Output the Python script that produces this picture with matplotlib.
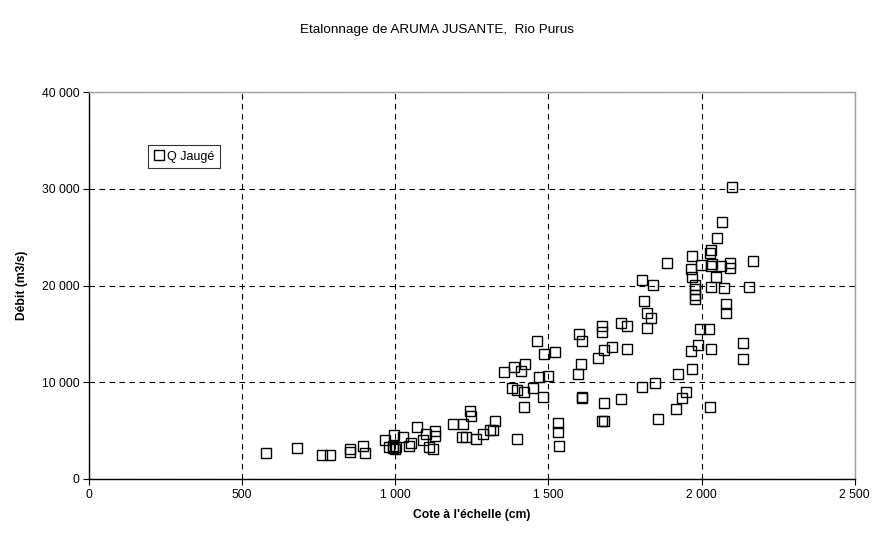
import numpy as np
import matplotlib.pyplot as plt
from matplotlib.ticker import FuncFormatter, MultipleLocator

plt.rcParams['font.family'] = ['Liberation Sans', 'DejaVu Sans']

# Cote (cm) et débit jaugé (m3/s)
cote = [578, 678, 760, 786, 851, 851, 894, 900, 968, 978,
        992, 992, 995, 998, 1001, 1024, 1044, 1050, 1070, 1089,
        1099, 1109, 1122, 1131, 1131, 1190, 1220, 1243, 1246, 1217,
        1230, 1265, 1288, 1308, 1318, 1327, 1399, 1354, 1386, 1422,
        1412, 1380, 1396, 1419, 1451, 1468, 1481, 1500, 1419, 1487,
        1520, 1464, 1530, 1530, 1536, 1595, 1608, 1611, 1680, 1683,
        1663, 1680, 1709, 1758, 1601, 1611, 1676, 1676, 1738, 1755,
        1804, 1840, 1813, 1823, 1836, 1823, 1888, 1738, 1611, 1676,
        1807, 1849, 1924, 1970, 1967, 1990, 2032, 1996, 2025, 2136,
        2136, 1950, 1937, 1918, 2029, 1859, 2100, 2068, 2052, 2029,
        2032, 2169, 1970, 1967, 1970, 2032, 2035, 2048, 2065, 2094,
        2094, 1980, 2032, 2074, 2156, 1980, 1980, 1980, 2081, 2081,
        1999]
debit = [2700, 3210, 2480, 2480, 3100, 2790, 3410, 2690, 4030, 3310,
         3200, 3410, 4550, 3100, 3310, 4340, 3410, 3720, 5370, 4030,
         4650, 3310, 3100, 4960, 4440, 5680, 5680, 7030, 6510, 4340,
         4340, 4130, 4650, 5060, 5060, 5990, 4130, 11060, 11580, 11890,
         11160, 9410, 9200, 8990, 9410, 10540, 8480, 10650, 7440, 12920,
         13130, 14260, 5790, 4860, 3410, 10850, 11890, 8480, 5990, 7860,
         12510, 13330, 13640, 13440, 14990, 14260, 15810, 15190, 16120, 15810,
         20570, 20050, 18400, 17160, 16640, 15610, 22330, 8270, 8370, 5990,
         9510, 9920, 10850, 11370, 13230, 13850, 13440, 15500, 15500, 14060,
         12400, 8990, 8370, 7240, 7440, 6200, 30180, 26560, 24910, 23360,
         23670, 22530, 23050, 21710, 20880, 22020, 22220, 20880, 22020, 22330,
         21810, 20050, 19850, 19740, 19850, 19640, 19020, 18610, 18090, 17160,
         22120]

fig = plt.figure(figsize=(8.73, 5.35), dpi=100)
ax = fig.add_axes([0.102, 0.1047, 0.877, 0.7233])

ax.plot(cote, debit, linestyle='none', marker='s', markersize=7.2,
        markerfacecolor='none', markeredgecolor='black', markeredgewidth=1.0,
        label='Q Jaugé')

ax.set_xlim(0, 2500)
ax.set_ylim(0, 40000)
ax.xaxis.set_major_locator(MultipleLocator(500))
ax.yaxis.set_major_locator(MultipleLocator(10000))

def fmt_milliers(v, pos):
    return f'{int(v):,}'.replace(',', ' ')

ax.xaxis.set_major_formatter(FuncFormatter(fmt_milliers))
ax.yaxis.set_major_formatter(FuncFormatter(fmt_milliers))
ax.tick_params(direction='out', length=4, width=0.8, labelsize=8.7, pad=3)

ax.grid(True, color='black', linestyle=(0, (5, 4)), linewidth=0.8)
ax.set_axisbelow(True)

for s in ['left', 'bottom']:
    ax.spines[s].set_color('black')
    ax.spines[s].set_linewidth(1.0)
for s in ['top', 'right']:
    ax.spines[s].set_color('#a0a0a0')
    ax.spines[s].set_linewidth(1.0)

ax.set_xlabel("Cote à l'échelle (cm)", fontsize=8.7, fontweight='bold', labelpad=6)
ax.set_ylabel('Débit (m3/s)', fontsize=8.7, fontweight='bold', labelpad=10)

fig.suptitle('Etalonnage de ARUMA JUSANTE,  Rio Purus', fontsize=9.7, y=0.955)

leg = ax.legend(loc='upper left', bbox_to_anchor=(0.077, 0.863), fontsize=9,
                frameon=True, fancybox=False, handlelength=0.8, handletextpad=0.25,
                borderpad=0.45, borderaxespad=0)
leg.get_frame().set_edgecolor('black')
leg.get_frame().set_linewidth(0.8)

fig.savefig('out.png', dpi=100)
